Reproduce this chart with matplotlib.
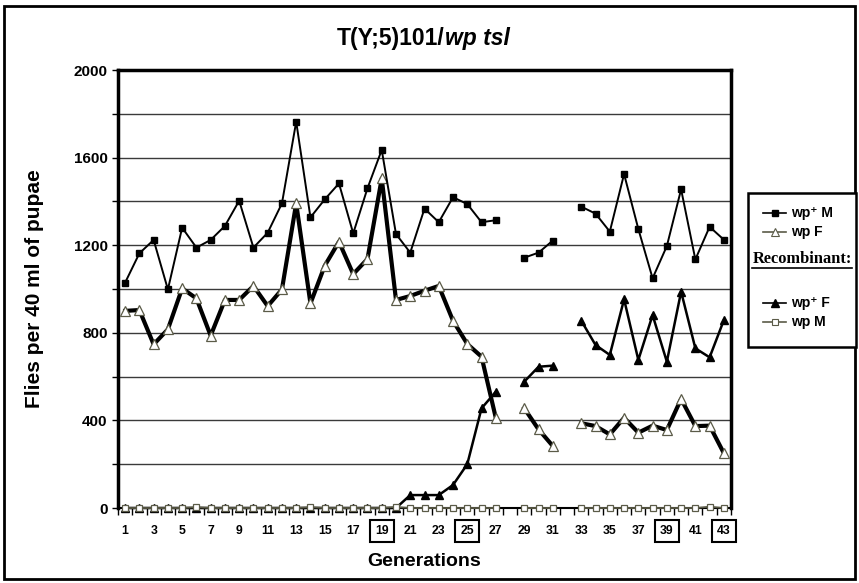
import numpy as np
import matplotlib
matplotlib.use("Agg")
import matplotlib.pyplot as plt
from matplotlib.lines import Line2D
from matplotlib.patches import Rectangle

plt.rcParams['font.family'] = ['Liberation Sans', 'DejaVu Sans']

nan = np.nan
generations = list(range(1, 44))

wp_plus_M = [1029, 1163, 1224, 998, 1280, 1189, 1224, 1288, 1403, 1189,
             1257, 1391, 1764, 1327, 1409, 1482, 1254, 1460, 1635, 1251,
             1166, 1367, 1305, 1419, 1388, 1305, 1314, nan, 1143, 1166,
             1221, nan, 1376, 1344, 1262, 1525, 1274, 1049, 1196, 1455,
             1135, 1284, 1225]

wp_F = [900, 904, 747, 816, 1003, 957, 787, 950, 950, 1014,
        922, 998, 1391, 934, 1106, 1216, 1068, 1137, 1505, 950,
        968, 992, 1014, 855, 749, 691, 412, nan, 455, 359,
        283, nan, 387, 374, 336, 412, 344, 376, 356, 498,
        374, 376, 250]

rec_wp_plus_F = [0, 0, 0, 0, 0, 0, 0, 0, 0, 0,
                 0, 0, 0, 0, 0, 0, 0, 0, 0, 0,
                 59, 59, 59, 105, 200, 455, 531, nan, 577, 645,
                 650, nan, 855, 744, 699, 953, 676, 881, 668, 988,
                 729, 688, 858]

rec_wp_M = [0, 0, 0, 0, 0, 4, 0, 0, 0, 0,
            0, 0, 0, 4, 0, 0, 0, 0, 0, 5,
            0, 0, 0, 0, 0, 0, 0, nan, 0, 0,
            0, nan, 0, 0, 0, 0, 0, 0, 0, 0,
            0, 6, 0]

boxed_labels = [19, 25, 39, 43]
y_ticks = [0, 400, 800, 1200, 1600, 2000]

W, H = 859, 583
fig = plt.figure(figsize=(W / 100, H / 100), dpi=100)

# outer border of the figure
fig.patches.append(Rectangle((4 / W, 1 - 579 / H), 851 / W, 573 / H,
                             transform=fig.transFigure, fill=False,
                             ec='black', lw=2))

L, R, T, B = 118, 731, 70, 508
ax = fig.add_axes([L / W, 1 - B / H, (R - L) / W, (B - T) / H])
ax.set_xlim(0.5, 43.5)
ax.set_ylim(0, 2000)

for y in range(200, 2001, 200):
    ax.axhline(y, color='#3a3a3a', lw=1.0, zorder=1)

x = np.array(generations)
olive = '#5b5b48'

ax.plot(x, rec_wp_plus_F, color='black', lw=1.8, marker='^', ms=6,
        mfc='black', mec='black', zorder=3, clip_on=False)
ax.plot(x, rec_wp_M, color=olive, lw=1.3, marker='s', ms=4.2,
        mfc='white', mec=olive, mew=0.9, zorder=4, clip_on=False)
ax.plot(x, wp_F, color='black', lw=3.0, marker='^', ms=6.5,
        mfc='white', mec=olive, mew=0.9, zorder=5)
ax.plot(x, wp_plus_M, color='black', lw=1.4, marker='s', ms=4.5,
        mfc='black', mec='black', zorder=6)

for side in ['left', 'top', 'right']:
    ax.spines[side].set_linewidth(2.5)
ax.spines['bottom'].set_linewidth(1.5)
ax.spines['bottom'].set_zorder(2)

ax.set_yticks(range(0, 2001, 200))
ax.set_yticklabels([str(v) if v in y_ticks else '' for v in range(0, 2001, 200)],
                   fontsize=11, fontweight='bold')
ax.tick_params(axis='y', length=4.5, width=1, direction='out', pad=3)

odd = list(range(1, 44, 2))
ax.set_xticks(odd)
ax.set_xticklabels([str(g) for g in odd], fontsize=8.8, fontweight='bold')
ax.set_xticks(np.arange(0.5, 44, 1.0), minor=True)
ax.tick_params(axis='x', which='major', length=0, pad=12)
ax.tick_params(axis='x', which='minor', length=5, width=1, direction='out')
for lbl in ax.get_xticklabels():
    if int(lbl.get_text()) in boxed_labels:
        lbl.set_bbox(dict(boxstyle='square,pad=0.42', fc='white', ec='black', lw=1.5))

ax.set_ylabel('Flies per 40 ml of pupae', fontsize=15, fontweight='bold', labelpad=21)
ax.set_xlabel('Generations', fontsize=14, fontweight='bold', labelpad=12)

# title: plain part followed by italic part
fig.canvas.draw()
renderer = fig.canvas.get_renderer()
t1 = fig.text(0, 1 - 38 / H, 'T(Y;5)101/', fontsize=16.5, fontweight='bold', va='center')
t2 = fig.text(0, 1 - 38 / H, 'wp tsl', fontsize=16.5, fontweight='bold',
              style='italic', va='center')
w1 = t1.get_window_extent(renderer).width
w2 = t2.get_window_extent(renderer).width
cx = 423
start = cx - (w1 + w2) / 2
t1.set_x(start / W)
t2.set_x((start + w1 + 1) / W)

# legend panel
fig.patches.append(Rectangle((748 / W, 1 - 347 / H), 108 / W, 154 / H,
                             transform=fig.transFigure, fill=True, fc='white',
                             ec='black', lw=1.8))

def legend_entry(yp, label, color, lw, marker, ms, mfc, mec, mew=1.0):
    yf = 1 - yp / H
    fig.add_artist(Line2D([763 / W, 786 / W], [yf, yf], transform=fig.transFigure,
                          color=color, lw=lw))
    fig.add_artist(Line2D([774.5 / W], [yf], transform=fig.transFigure,
                          ls='none', marker=marker, ms=ms, mfc=mfc, mec=mec, mew=mew))
    fig.text(791 / W, yf, label, fontsize=10, fontweight='bold', va='center',
             family=['Liberation Sans', 'DejaVu Sans'])

legend_entry(213, 'wp\u207a M', 'black', 1.2, 's', 4.2, 'black', 'black')
legend_entry(232, 'wp F', olive, 1.2, '^', 5.5, 'white', olive, 0.8)
rec = fig.text(802 / W, 1 - 259 / H, 'Recombinant:', fontsize=11.8, fontweight='bold',
               family='Liberation Serif', ha='center', va='center')
rb = rec.get_window_extent(renderer)
fig.add_artist(Line2D([rb.x0 / W, rb.x1 / W], [(rb.y0 - 1) / H, (rb.y0 - 1) / H],
                      transform=fig.transFigure, color='black', lw=1.2))
legend_entry(303, 'wp\u207a F', 'black', 1.2, '^', 5.5, 'black', 'black')
legend_entry(322, 'wp M', olive, 1.2, 's', 4.2, 'white', olive, 0.8)

fig.savefig('out.png', dpi=100)
